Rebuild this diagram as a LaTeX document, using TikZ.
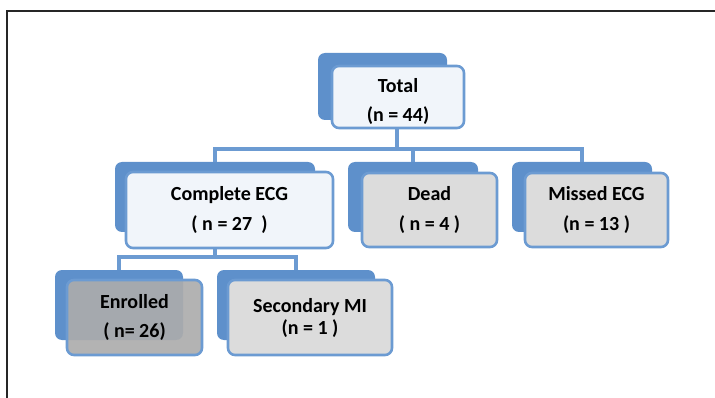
\documentclass[tikz,border=0pt]{standalone}
\usepackage{fontspec}
\setmainfont{Carlito}
\usepackage{xcolor}
\usetikzlibrary{positioning}
\definecolor{backblue}{HTML}{5E90CB}
\definecolor{edgeblue}{HTML}{6C9BD2}
\definecolor{paleblue}{HTML}{F1F5FA}
\definecolor{lightgrey}{HTML}{DCDCDC}
\definecolor{midgrey}{HTML}{ACACAC}

\begin{document}
\begin{tikzpicture}[x=1pt, y=-1pt,
    % Blue slab that sits behind each box, offset up and to the left.
    backslab/.style={rectangle, fill=backblue, draw=none,
                     rounded corners=7pt, inner sep=0pt},
    % Front boxes: rounded rectangles with a blue edge and two text lines.
    palebox/.style={rectangle, draw=edgeblue, line width=2.6pt,
                    fill=paleblue, rounded corners=7pt, inner sep=0pt,
                    align=center, font=\fontsize{20}{29.5}\selectfont\bfseries},
    % Grey boxes for the side branches.
    greybox/.style={palebox, fill=lightgrey},
    % Darker grey box, partly see-through over its slab.
    darkbox/.style={palebox, fill=midgrey, fill opacity=0.92,
                    text opacity=1},
    % Tree connectors between boxes.
    link/.style={draw=edgeblue, line width=3.4pt}
]

    % === Page frame ===
    \useasboundingbox (0,0) rectangle (715,398);
    \draw[line width=1.8pt, black!85] (7,398) -- (7,11) -- (715,11);

    % === Level 0: Total ===
    \node[backslab, minimum width=129pt, minimum height=67pt] (total-bg) at (382.5, 86.5) {};
    \node[palebox, minimum width=132pt, minimum height=62pt,
          text depth=0pt] (total) at (398, 97) {\rule{0pt}{20pt}Total\\(n = 44)};

    % === Level 1: outcome of the ECG ===
    \node[backslab, minimum width=200pt, minimum height=70pt] (complete-bg) at (215, 197) {};
    \node[palebox, minimum width=207pt, minimum height=76pt] (complete) at (229.5, 210) {Complete ECG\\( n = 27~~)};

    \node[backslab, minimum width=130pt, minimum height=70pt] (dead-bg) at (413, 197) {};
    \node[greybox, minimum width=135pt, minimum height=74pt] (dead) at (429.5, 210) {Dead\\( n = 4 )};

    \node[backslab, minimum width=140pt, minimum height=70pt] (missed-bg) at (582, 197) {};
    \node[greybox, minimum width=143pt, minimum height=74pt] (missed) at (596.5, 210) {Missed ECG\\(n = 13 )};

    % === Level 2: split of the complete ECG group ===
    \node[backslab, minimum width=128pt, minimum height=70pt] (enrolled-bg) at (119, 305) {};
    \node[darkbox, minimum width=135pt, minimum height=75pt] (enrolled) at (134.5, 317.5) {Enrolled\\( n= 26)};

    \node[backslab, minimum width=158pt, minimum height=70pt] (secondary-bg) at (296, 305) {};
    \node[greybox, minimum width=164pt, minimum height=75pt,
          font=\fontsize{20}{22}\selectfont\bfseries] (secondary) at (310, 317.5) {Secondary MI\\(n = 1 )};

    % === Connectors ===
    \coordinate (fork1) at (397, 149);
    \coordinate (fork2) at (215, 257);
    \draw[link] (total.south -| fork1) -- (fork1);
    \draw[link] (complete-bg.north) |- (fork1) -| (missed-bg.north);
    \draw[link] (dead-bg.north) -- (dead-bg.north |- fork1);
    \draw[link] (complete.south -| fork2) -- (fork2);
    \draw[link] (enrolled-bg.north) |- (fork2) -| (secondary-bg.north);

\end{tikzpicture}
\end{document}
